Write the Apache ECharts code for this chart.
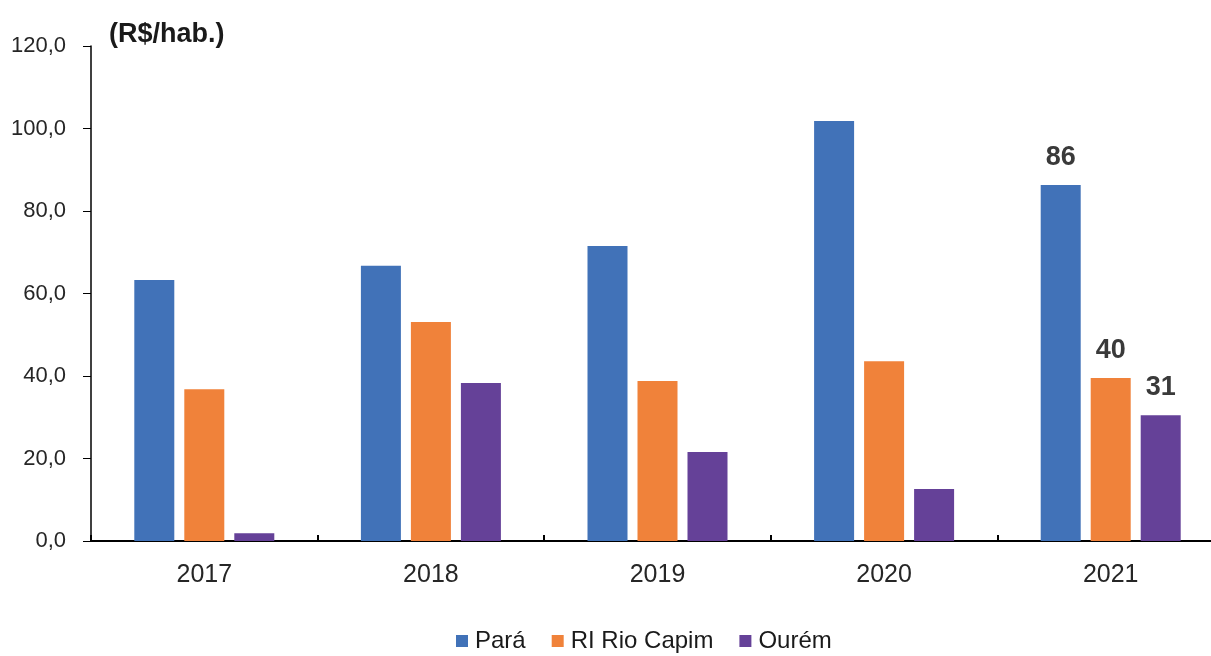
<!DOCTYPE html>
<html>
<head>
<meta charset="utf-8">
<script src="https://cdn.jsdelivr.net/npm/echarts@6/dist/echarts.min.js"></script>
<style>
html,body{margin:0;padding:0;background:#fff;}
#c{width:1211px;height:656px;}
</style>
</head>
<body>
<div id="c"></div>
<script>
const categories = ['2017','2018','2019','2020','2021'];
const seriesNames = ['Pará','RI Rio Capim','Ourém'];
const para = [63.3, 66.7, 71.5, 101.8, 86.3];
const riRioCapim = [36.8, 53.1, 38.8, 43.6, 39.5];
const ourem = [1.9, 38.3, 21.6, 12.6, 30.5];
const labeledIndex = 4;
const yTicks = [0, 20, 40, 60, 80, 100, 120];

const colors = ['#4172B8', '#F0823A', '#654198'];
const font = '"Liberation Sans", Arial, sans-serif';

function mkSeries(name, data, color) {
  return {
    name: name,
    type: 'bar',
    barWidth: 40,
    barGap: '25%',
    itemStyle: { color: color },
    data: data.map((v, i) => ({
      value: v,
      label: {
        show: i === labeledIndex,
        position: 'top',
        distance: 14,
        formatter: (p) => Math.round(p.value).toString(),
        fontFamily: font,
        fontWeight: 'bold',
        fontSize: 27,
        color: '#3a3a3a'
      }
    }))
  };
}

const chart = echarts.init(document.getElementById('c'));
chart.setOption({
  animation: false,
  color: colors,
  title: {
    text: '(R$/hab.)',
    left: 104,
    top: 16,
    textStyle: { fontFamily: font, fontWeight: 'bold', fontSize: 27, color: '#1a1a1a' }
  },
  grid: { left: 91, top: 46, width: 1133, height: 495, containLabel: false, outerBoundsMode: 'none' },
  legend: {
    top: 624,
    left: 451,
    itemWidth: 12,
    itemHeight: 12,
    itemGap: 26,
    icon: 'rect',
    textStyle: { fontFamily: font, fontSize: 24, color: '#1a1a1a', padding: [0, 0, 0, 2] },
    data: seriesNames
  },
  xAxis: {
    type: 'category',
    data: categories,
    axisLine: { lineStyle: { color: '#000', width: 2 } },
    axisTick: { show: true, inside: true, length: 6, lineStyle: { color: '#000', width: 2 } },
    axisLabel: { fontFamily: font, fontSize: 25, color: '#262626', margin: 22 }
  },
  yAxis: {
    type: 'value',
    min: yTicks[0],
    max: yTicks[yTicks.length - 1],
    interval: 20,
    splitLine: { show: false },
    axisLine: { show: true, lineStyle: { color: '#000', width: 1.5 } },
    axisTick: { show: true, length: 8, lineStyle: { color: '#000' } },
    axisLabel: {
      fontFamily: font, fontSize: 22, color: '#262626', margin: 25,
      formatter: (v) => v.toFixed(1).replace('.', ',')
    }
  },
  series: [
    mkSeries(seriesNames[0], para, colors[0]),
    mkSeries(seriesNames[1], riRioCapim, colors[1]),
    mkSeries(seriesNames[2], ourem, colors[2])
  ]
});
</script>
</body>
</html>
